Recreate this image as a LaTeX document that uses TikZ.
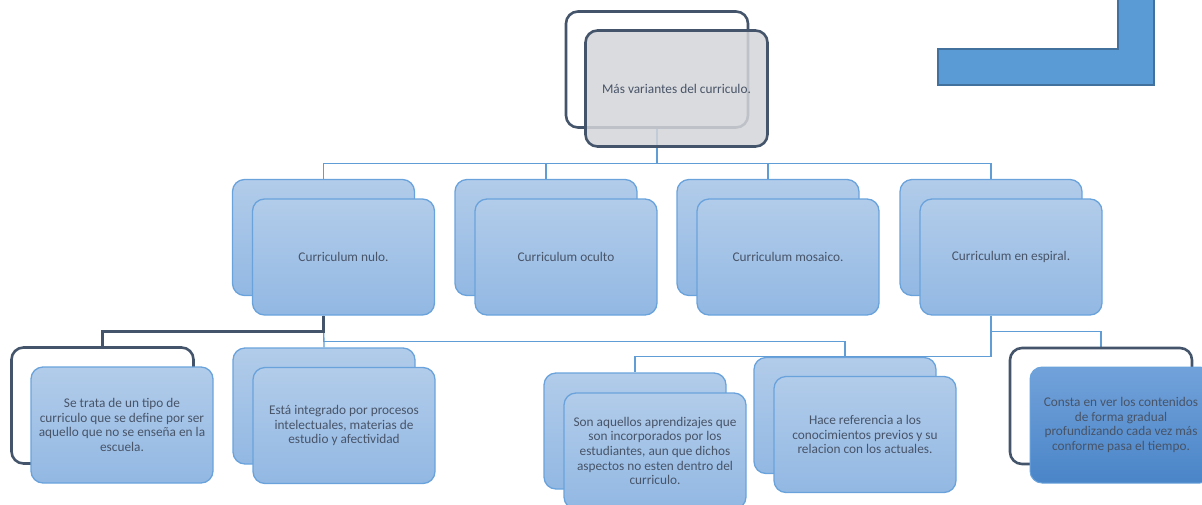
\documentclass[tikz,border=0pt]{standalone}
\usepackage{fontspec}
\setmainfont{Carlito}
\definecolor[named]{Slate}{RGB}{68,84,106}
\definecolor[named]{InkGray}{RGB}{72,84,104}
\definecolor[named]{CardTop}{RGB}{178,204,234}
\definecolor[named]{CardBottom}{RGB}{146,184,227}
\definecolor[named]{CardEdge}{RGB}{106,163,220}
\definecolor[named]{LinkBlue}{RGB}{96,156,214}
\definecolor[named]{DeepTop}{RGB}{114,162,218}
\definecolor[named]{DeepBottom}{RGB}{74,133,200}
\definecolor[named]{RootGray}{RGB}{212,213,217}
\definecolor[named]{CornerBlue}{RGB}{91,155,213}
\definecolor[named]{CornerEdge}{RGB}{65,113,156}
\pgfdeclarelayer{wires}
\pgfsetlayers{wires,main}
\tikzset{
  card/.style={rectangle,rounded corners=12pt,minimum width=182pt,minimum height=116pt,
    inner sep=0pt,align=center,text=InkGray,font=\fontsize{13.3}{14.7}\selectfont},
  bluecard/.style={card,draw=CardEdge,line width=1.3pt,top color=CardTop,bottom color=CardBottom},
  slatecard/.style={card,draw=Slate,line width=2.6pt,fill=white},
  deepcard/.style={card,draw=CardEdge,line width=1pt,top color=DeepTop,bottom color=DeepBottom},
  link/.style={draw=LinkBlue,line width=1.3pt},
  slatelink/.style={draw=Slate,line width=2.6pt},
}

\begin{document}
\begin{tikzpicture}[x=1pt,y=-1pt]
    \useasboundingbox (0,0) rectangle (1202,504);

    % Corner bracket
    \draw[fill=CornerBlue,draw=CornerEdge,line width=1.5pt]
      (938,49) -- (1118,49) -- (1118,-5) -- (1154,-5) -- (1154,85) -- (938,85) -- cycle;

    % Root
    \node[slatecard] (rootB) at (657,69.5) {};
    \node[card,draw=Slate,line width=2.6pt,fill=RootGray,fill opacity=0.85,text opacity=1]
      (root) at ([shift={(19.5,19)}]rootB) {Más variantes del curriculo.};

    % Second row
    \begin{scope}[every node/.style={bluecard}]
      \node (nuloB) at (323.5,237.5) {};
      \node (nulo) at ([shift={(20,19.5)}]nuloB) {Curriculum nulo.};
      \node (ocultoB) at (546,237.5) {};
      \node (oculto) at ([shift={(20,19.5)}]ocultoB) {Curriculum oculto};
      \node (mosaicoB) at (768,237.5) {};
      \node (mosaico) at ([shift={(20,19.5)}]mosaicoB) {Curriculum mosaico.};
      \node (espiralB) at (991,237.5) {};
      \node (espiral) at ([shift={(20,19.5)}]espiralB) {Curriculum en espiral.};
    \end{scope}

    % Third row
    \node[slatecard] (trataB) at (102.5,405.5) {};
    \node[bluecard] (trata) at ([shift={(19.5,19.5)}]trataB)
      {Se trata de un tipo de\\ curriculo que se define por ser\\ aquello que no se enseña en la\\ escuela.};
    \node[bluecard] (estaB) at (324,406) {};
    \node[bluecard] (esta) at ([shift={(20,19.5)}]estaB)
      {Está integrado por procesos\\ intelectuales, materias de\\ estudio y afectividad};
    \node[bluecard] (sonB) at (635,431) {};
    \node[bluecard] (son) at ([shift={(20,20)}]sonB)
      {Son aquellos aprendizajes que\\ son incorporados por los\\ estudiantes, aun que dichos\\ aspectos no esten dentro del\\ curriculo.};
    \node[bluecard] (haceB) at (845,415.5) {};
    \node[bluecard] (hace) at ([shift={(20,19)}]haceB)
      {Hace referencia a los\\ conocimientos previos y su\\ relacion con los actuales.};
    \node[slatecard] (constaB) at (1101,406) {};
    \node[deepcard] (consta) at ([shift={(20,19)}]constaB)
      {Consta en ver los contenidos\\ de forma gradual\\ profundizando cada vez más\\ conforme pasa el tiempo.};

    % Connectors
    \begin{pgfonlayer}{wires}
      \draw[link] (rootB.south) -- ++(0,35) coordinate (bus);
      \draw[link] (bus) -| (nuloB.north);
      \draw[link] (bus) -| (ocultoB.north);
      \draw[link] (bus) -| (mosaicoB.north);
      \draw[link] (bus) -| (espiralB.north);

      \draw[link] (nuloB |- nulo.south) -- (estaB.north);
      \draw[link] (nuloB |- nulo.south) -- ++(0,26) -| (haceB.north);
      \draw[link] (espiralB |- espiral.south) -- ++(0,16) -| (constaB.north);
      \draw[link] (espiralB |- espiral.south) -- ++(0,41) -| (sonB.north);
      \draw[slatelink] (nuloB |- nulo.south) -- ++(0,16) -| (trataB.north);
    \end{pgfonlayer}
\end{tikzpicture}
\end{document}
